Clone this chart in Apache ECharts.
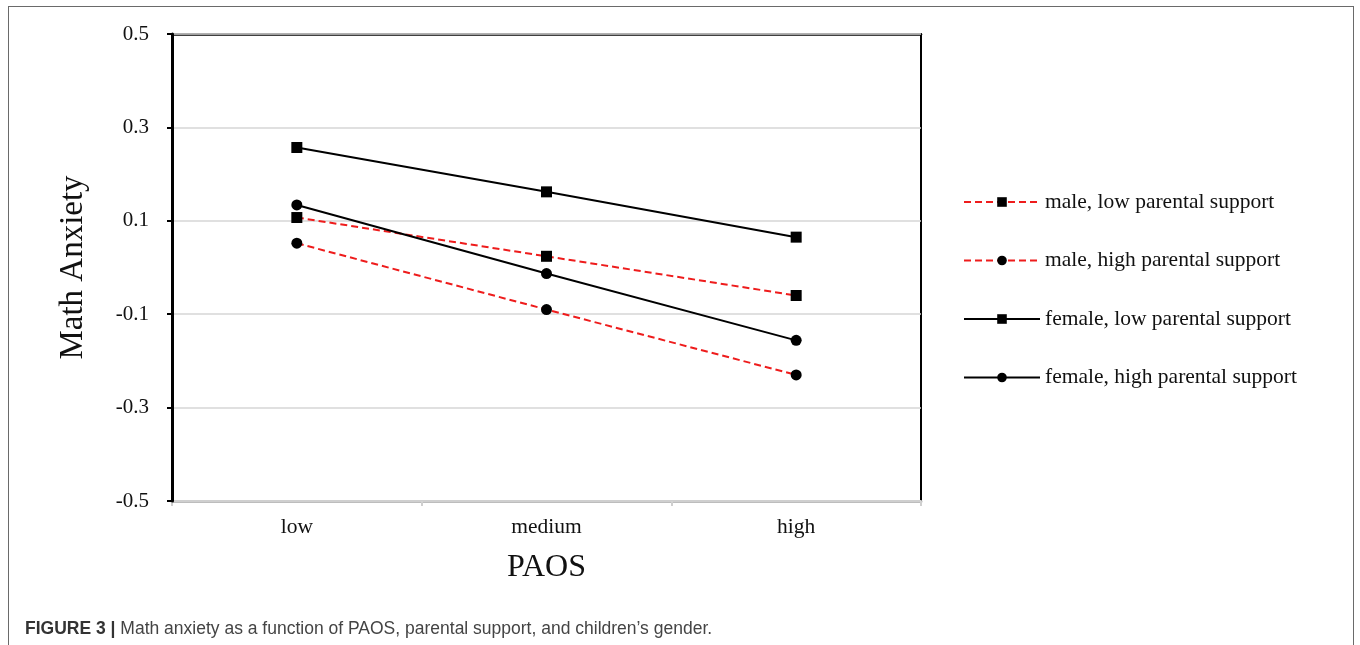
<!DOCTYPE html>
<html>
<head>
<meta charset="utf-8">
<script src="https://cdn.jsdelivr.net/npm/echarts@6/dist/echarts.min.js"></script>
<style>
  html, body { margin: 0; padding: 0; background: #fff; }
  #wrap { position: relative; width: 1360px; height: 645px; overflow: hidden; }
  #frame { position: absolute; left: 8px; top: 6px; width: 1346px; height: 700px;
           border: 1.5px solid #6a6a6a; box-sizing: border-box; }
  #chart { position: absolute; left: 0; top: 0; width: 1360px; height: 645px; }
</style>
</head>
<body>
<div id="wrap">
  <div id="frame"></div>
  <div id="chart"></div>
</div>
<script>
// ---- data ----
const categories = ['low', 'medium', 'high'];
const seriesNames = [
  'male, low parental support',
  'male, high parental support',
  'female, low parental support',
  'female, high parental support'
];
const maleLow    = [0.107, 0.024, -0.060];
const maleHigh   = [0.052, -0.090, -0.230];
const femaleLow  = [0.257, 0.162, 0.065];
const femaleHigh = [0.134, -0.013, -0.156];
const yMin = -0.5, yMax = 0.5, yStep = 0.2;
const yAxisName = 'Math Anxiety';
const xAxisName = 'PAOS';
const captionBold = 'FIGURE 3 |';
const captionText = 'Math anxiety as a function of PAOS, parental support, and children\u2019s gender.';

const serif = '"Liberation Serif", "Times New Roman", serif';
const sans = '"Liberation Sans", Arial, sans-serif';
const red = '#ee1c1c';

function mk(name, data, dashed, symbol) {
  return {
    name: name,
    type: 'line',
    data: data,
    xAxisIndex: 0,
    yAxisIndex: 0,
    symbol: symbol,
    symbolSize: 11,
    showSymbol: true,
    z: 5,
    itemStyle: { color: '#000' },
    lineStyle: dashed
      ? { color: red, width: 2, type: [7, 4] }
      : { color: '#000', width: 2, type: 'solid' },
    emphasis: { disabled: true },
    animation: false
  };
}

const chart = echarts.init(document.getElementById('chart'), null, { renderer: 'canvas' });
chart.setOption({
  backgroundColor: 'transparent',
  animation: false,
  title: {
    left: 20, top: 615,
    text: '{b|' + captionBold + '} {r|' + captionText + '}',
    textStyle: {
      fontWeight: 'normal',
      fontFamily: sans,
      fontSize: 17.5,
      rich: {
        b: { fontFamily: sans, fontWeight: 'bold', fontSize: 17.5, color: '#333' },
        r: { fontFamily: sans, fontWeight: 'normal', fontSize: 17.5, color: '#444' }
      }
    }
  },
  legend: {
    orient: 'vertical',
    left: 958, top: 186,
    itemWidth: 76, itemHeight: 12,
    itemGap: 36.5,
    data: seriesNames,
    textStyle: { fontFamily: serif, fontSize: 21.5, color: '#111', lineHeight: 22 },
    selectedMode: false
  },
  grid: { left: 172, top: 34, right: 439, bottom: 144, containLabel: false },
  xAxis: [{
    type: 'category',
    data: categories,
    boundaryGap: true,
    position: 'bottom',
    axisLine: { show: true, onZero: false, lineStyle: { color: '#bdbdbd', width: 3 } },
    axisTick: { show: true, length: 5, lineStyle: { color: '#cfcfcf', width: 2 } },
    axisLabel: { margin: 15, fontFamily: serif, fontSize: 21.5, color: '#111' },
    name: xAxisName,
    nameLocation: 'middle',
    nameGap: 51,
    nameTextStyle: { fontFamily: serif, fontSize: 32, color: '#111' },
    splitLine: { show: false },
    z: 3
  }, {
    type: 'category',
    data: categories,
    position: 'top',
    axisLine: { show: true, onZero: false, lineStyle: { color: '#000', width: 2.5 } },
    axisTick: { show: false },
    axisLabel: { show: false },
    splitLine: { show: false },
    z: 3
  }],
  yAxis: [{
    type: 'value',
    min: yMin, max: yMax, interval: yStep,
    position: 'left',
    axisLine: { show: true, onZero: false, lineStyle: { color: '#000', width: 3 } },
    axisTick: { show: true, length: 5, lineStyle: { color: '#000', width: 2 } },
    axisLabel: {
      margin: 23, fontFamily: serif, fontSize: 21, color: '#111',
      formatter: v => (Math.round(v * 10) / 10).toFixed(1)
    },
    splitLine: { show: true, lineStyle: { color: '#d6d6d6', width: 1.5 } },
    name: yAxisName,
    nameLocation: 'middle',
    nameGap: 82,
    nameTextStyle: { fontFamily: serif, fontSize: 33, color: '#111' },
    z: 4
  }, {
    type: 'value',
    min: yMin, max: yMax, interval: yStep,
    position: 'right',
    axisLine: { show: true, onZero: false, lineStyle: { color: '#000', width: 2 } },
    axisTick: { show: false },
    axisLabel: { show: false },
    splitLine: { show: false }
  }],
  series: [
    mk(seriesNames[0], maleLow, true, 'rect'),
    mk(seriesNames[1], maleHigh, true, 'circle'),
    mk(seriesNames[2], femaleLow, false, 'rect'),
    mk(seriesNames[3], femaleHigh, false, 'circle')
  ]
});
</script>
</body>
</html>
